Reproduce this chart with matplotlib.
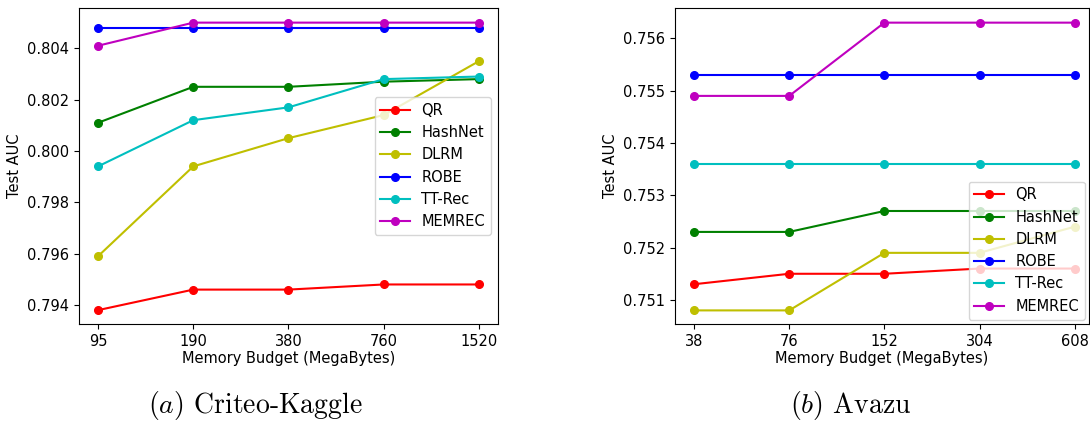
import matplotlib.pyplot as plt

methods = ['QR', 'HashNet', 'DLRM', 'ROBE', 'TT-Rec', 'MEMREC']
colors = ['r', 'g', 'y', 'b', 'c', 'm']

criteo_x = ['95', '190', '380', '760', '1520']
criteo_qr = [0.7938, 0.7946, 0.7946, 0.7948, 0.7948]
criteo_hashnet = [0.8011, 0.8025, 0.8025, 0.8027, 0.8028]
criteo_dlrm = [0.7959, 0.7994, 0.8005, 0.8014, 0.8035]
criteo_robe = [0.8048, 0.8048, 0.8048, 0.8048, 0.8048]
criteo_ttrec = [0.7994, 0.8012, 0.8017, 0.8028, 0.8029]
criteo_memrec = [0.8041, 0.8050, 0.8050, 0.8050, 0.8050]

avazu_x = ['38', '76', '152', '304', '608']
avazu_qr = [0.7513, 0.7515, 0.7515, 0.7516, 0.7516]
avazu_hashnet = [0.7523, 0.7523, 0.7527, 0.7527, 0.7527]
avazu_dlrm = [0.7508, 0.7508, 0.7519, 0.7519, 0.7524]
avazu_robe = [0.7553, 0.7553, 0.7553, 0.7553, 0.7553]
avazu_ttrec = [0.7536, 0.7536, 0.7536, 0.7536, 0.7536]
avazu_memrec = [0.7549, 0.7549, 0.7563, 0.7563, 0.7563]

plt.rcParams['mathtext.fontset'] = 'cm'
plt.rcParams['font.size'] = 10.5

fig = plt.figure(figsize=(10.9, 4.21), dpi=100)
ax1 = fig.add_axes([79 / 1090, 1 - 324 / 421, 419 / 1090, 316 / 421])
ax2 = fig.add_axes([675 / 1090, 1 - 324 / 421, 414 / 1090, 316 / 421])

criteo = [criteo_qr, criteo_hashnet, criteo_dlrm, criteo_robe, criteo_ttrec, criteo_memrec]
avazu = [avazu_qr, avazu_hashnet, avazu_dlrm, avazu_robe, avazu_ttrec, avazu_memrec]

pos = range(5)
for i in range(len(methods)):
    ax1.plot(pos, criteo[i], 'o-', color=colors[i], label=methods[i], markersize=5.5)
    ax2.plot(pos, avazu[i], 'o-', color=colors[i], label=methods[i], markersize=5.5)

ax1.set_xticks(pos)
ax1.set_xticklabels(criteo_x)
ax1.set_xlim(-0.2, 4.2)
ax1.set_ylim(0.79326, 0.80557)
ax1.set_yticks([0.794, 0.796, 0.798, 0.800, 0.802, 0.804])
ax1.set_xlabel('Memory Budget (MegaBytes)', labelpad=2)
ax1.set_ylabel('Test AUC')
ax1.legend(loc='center right')

ax2.set_xticks(pos)
ax2.set_xticklabels(avazu_x)
ax2.set_xlim(-0.2, 4.15)
ax2.set_ylim(0.75054, 0.75658)
ax2.set_yticks([0.751, 0.752, 0.753, 0.754, 0.755, 0.756])
ax2.set_xlabel('Memory Budget (MegaBytes)', labelpad=2)
ax2.set_ylabel('Test AUC')
ax2.legend(loc='lower right', borderaxespad=0.3)

fig.text(255 / 1090, 1 - 406 / 421, r'$(a)$ Criteo-Kaggle', family='cmr10',
         fontsize=20, ha='center', va='center')
fig.text(851 / 1090, 1 - 406 / 421, r'$(b)$ Avazu', family='cmr10',
         fontsize=20, ha='center', va='center')

fig.savefig('out.png', dpi=100)
